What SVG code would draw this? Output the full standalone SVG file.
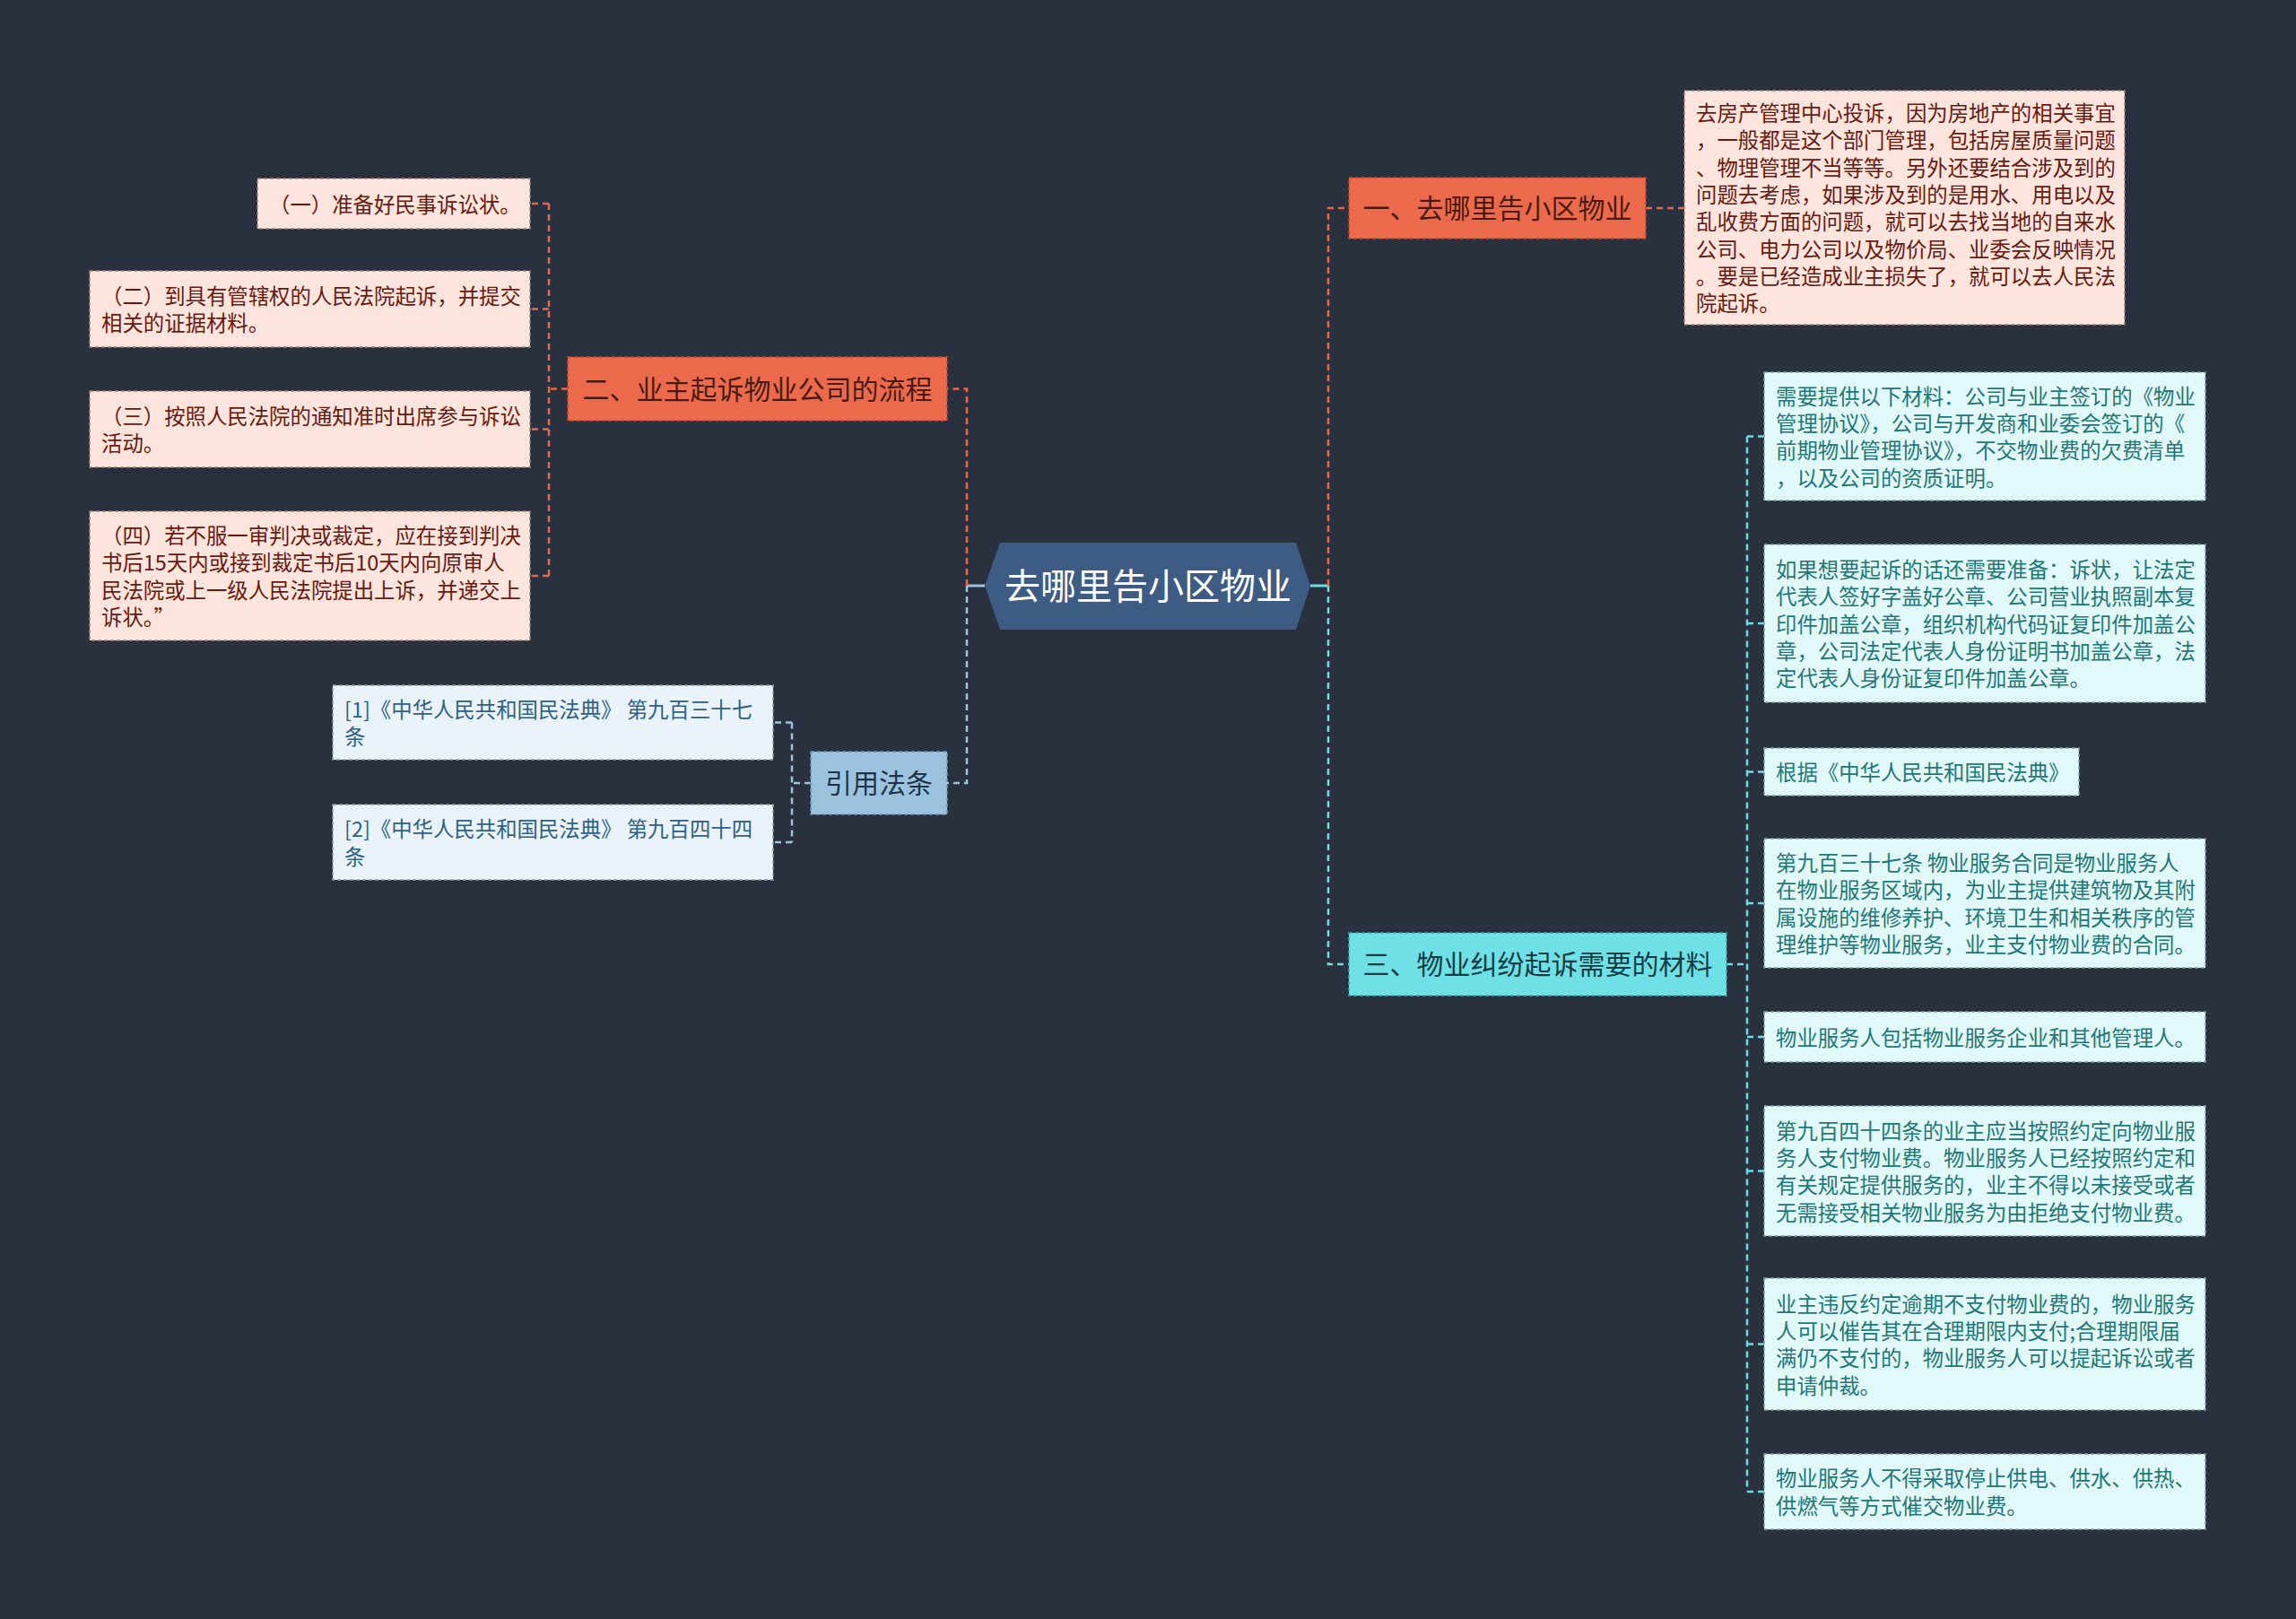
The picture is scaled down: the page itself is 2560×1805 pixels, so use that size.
<svg xmlns="http://www.w3.org/2000/svg" width="2560" height="1805" viewBox="0 0 2560 1805">
<style>
text{font-family:"Noto Sans CJK SC","Microsoft YaHei",sans-serif;}
.c{fill:none;stroke-width:2.5;stroke-dasharray:7 5;}
.co{stroke:#e8694a;}
.cc{stroke:#6ddde3;}
.cb{stroke:#9ec3dc;}
.solidc{fill:none;stroke-width:3;stroke:#6ddde3;}
.solidb{fill:none;stroke-width:3;stroke:#9ec3dc;}
.nb{stroke-width:1.5;stroke-dasharray:4 3;}
.on{fill:#ec6a4c;stroke:#b84a32;}
.cn{fill:#6ee0e6;stroke:#3fa6ab;}
.bn{fill:#9cc3de;stroke:#6e94ae;}
.pb{fill:#fde4dc;stroke:#9a8078;}
.cb2{fill:#e1f9f9;stroke:#7fa3a5;}
.lb{fill:#eaf3f9;stroke:#8a9aa6;}
.t1{font-size:30px;}
.t2{font-size:23.4px;}
.pt{fill:#661a10;}
.ct{fill:#1f7777;}
.lt{fill:#2d6187;}
</style>
<rect width="2560" height="1805" fill="#29313f"/>
<g id="connectors">
<path class="solidb" d="M1098 653 H1078"/>
<path class="solidc" d="M1461 653 H1481"/>
<path class="c co" d="M1078 653 V433.5 H1056"/>
<path class="c cb" d="M1078 653 V873 H1056"/>
<path class="c co" d="M633 433.5 H612"/>
<path class="c co" d="M612 227 V642"/>
<path class="c co" d="M612 227 H591 M612 344.5 H591 M612 478.5 H591 M612 642 H591"/>
<path class="c cb" d="M904 873 H883"/>
<path class="c cb" d="M883 805.5 V939"/>
<path class="c cb" d="M883 805.5 H862 M883 939 H862"/>
<path class="c co" d="M1481 653 V232 H1504"/>
<path class="c cc" d="M1481 653 V1075 H1504"/>
<path class="c co" d="M1835 232 H1878"/>
<path class="c cc" d="M1925 1075 H1948"/>
<path class="c cc" d="M1948 486.5 V1663"/>
<path class="c cc" d="M1948 486.5 H1967 M1948 695 H1967 M1948 860.5 H1967 M1948 1007 H1967 M1948 1156 H1967 M1948 1305.5 H1967 M1948 1498.5 H1967 M1948 1663 H1967"/>
</g>
<g id="center">
<polygon points="1098,653 1115,605 1445,605 1461,653 1445,702 1115,702" fill="#3e5b83"/>
<text x="1280" y="668" font-size="40" fill="#ffffff" text-anchor="middle">去哪里告小区物业</text>
</g>
<g id="n1">
<rect class="nb on" x="1504" y="198" width="331" height="68"/>
<text class="t1" x="1669.5" y="243" fill="#4a1a10" text-anchor="middle">一、去哪里告小区物业</text>
</g>
<g id="n1a">
<rect class="nb pb" x="1878" y="101" width="491" height="261"/>
<text class="t2 pt"><tspan x="1891" y="135">去房产管理中心投诉，因为房地产的相关事宜</tspan><tspan x="1891" y="165.3">，一般都是这个部门管理，包括房屋质量问题</tspan><tspan x="1891" y="195.6">、物理管理不当等等。另外还要结合涉及到的</tspan><tspan x="1891" y="225.9">问题去考虑，如果涉及到的是用水、用电以及</tspan><tspan x="1891" y="256.2">乱收费方面的问题，就可以去找当地的自来水</tspan><tspan x="1891" y="286.5">公司、电力公司以及物价局、业委会反映情况</tspan><tspan x="1891" y="316.8">。要是已经造成业主损失了，就可以去人民法</tspan><tspan x="1891" y="347.1">院起诉。</tspan></text>
</g>
<g id="n2">
<rect class="nb on" x="633" y="398" width="423" height="71"/>
<text class="t1" x="844.5" y="445" fill="#4a1a10" text-anchor="middle">二、业主起诉物业公司的流程</text>
</g>
<g id="n2a">
<rect class="nb pb" x="287" y="199" width="304" height="56"/>
<text class="t2 pt" x="300" y="236.5">（一）准备好民事诉讼状。</text>
</g>
<g id="n2b">
<rect class="nb pb" x="100" y="302" width="491" height="85"/>
<text class="t2 pt"><tspan x="113" y="338.9">（二）到具有管辖权的人民法院起诉，并提交</tspan><tspan x="113" y="369.2">相关的证据材料。</tspan></text>
</g>
<g id="n2c">
<rect class="nb pb" x="100" y="436" width="491" height="85"/>
<text class="t2 pt"><tspan x="113" y="472.9">（三）按照人民法院的通知准时出席参与诉讼</tspan><tspan x="113" y="503.2">活动。</tspan></text>
</g>
<g id="n2d">
<rect class="nb pb" x="100" y="570" width="491" height="144"/>
<text class="t2 pt"><tspan x="113" y="606.1">（四）若不服一审判决或裁定，应在接到判决</tspan><tspan x="113" y="636.4">书后15天内或接到裁定书后10天内向原审人</tspan><tspan x="113" y="666.7">民法院或上一级人民法院提出上诉，并递交上</tspan><tspan x="113" y="697">诉状。”</tspan></text>
</g>
<g id="n4">
<rect class="nb bn" x="904" y="838" width="152" height="70"/>
<text class="t1" x="980" y="884" fill="#1e3346" text-anchor="middle">引用法条</text>
</g>
<g id="n4a">
<rect class="nb lb" x="371" y="764" width="491" height="83"/>
<text class="t2 lt"><tspan x="384" y="799.9">[1]《中华人民共和国民法典》 第九百三十七</tspan><tspan x="384" y="830.2">条</tspan></text>
</g>
<g id="n4b">
<rect class="nb lb" x="371" y="897" width="491" height="84"/>
<text class="t2 lt"><tspan x="384" y="933.4">[2]《中华人民共和国民法典》 第九百四十四</tspan><tspan x="384" y="963.7">条</tspan></text>
</g>
<g id="n3">
<rect class="nb cn" x="1504" y="1040" width="421" height="70"/>
<text class="t1" x="1714.5" y="1086" fill="#143c44" text-anchor="middle">三、物业纠纷起诉需要的材料</text>
</g>
<g id="n3a">
<rect class="nb cb2" x="1967" y="415" width="492" height="143"/>
<text class="t2 ct"><tspan x="1980" y="450.5">需要提供以下材料：公司与业主签订的《物业</tspan><tspan x="1980" y="480.9">管理协议》，公司与开发商和业委会签订的《</tspan><tspan x="1980" y="511.2">前期物业管理协议》，不交物业费的欠费清单</tspan><tspan x="1980" y="541.5">，以及公司的资质证明。</tspan></text>
</g>
<g id="n3b">
<rect class="nb cb2" x="1967" y="607" width="492" height="176"/>
<text class="t2 ct"><tspan x="1980" y="643.9">如果想要起诉的话还需要准备：诉状，让法定</tspan><tspan x="1980" y="674.2">代表人签好字盖好公章、公司营业执照副本复</tspan><tspan x="1980" y="704.5">印件加盖公章，组织机构代码证复印件加盖公</tspan><tspan x="1980" y="734.8">章，公司法定代表人身份证明书加盖公章，法</tspan><tspan x="1980" y="765.1">定代表人身份证复印件加盖公章。</tspan></text>
</g>
<g id="n3c">
<rect class="nb cb2" x="1967" y="834" width="351" height="53"/>
<text class="t2 ct" x="1980" y="870">根据《中华人民共和国民法典》</text>
</g>
<g id="n3d">
<rect class="nb cb2" x="1967" y="935" width="492" height="144"/>
<text class="t2 ct"><tspan x="1980" y="971.1">第九百三十七条 物业服务合同是物业服务人</tspan><tspan x="1980" y="1001.4">在物业服务区域内，为业主提供建筑物及其附</tspan><tspan x="1980" y="1031.7">属设施的维修养护、环境卫生和相关秩序的管</tspan><tspan x="1980" y="1062">理维护等物业服务，业主支付物业费的合同。</tspan></text>
</g>
<g id="n3e">
<rect class="nb cb2" x="1967" y="1128" width="492" height="56"/>
<text class="t2 ct" x="1980" y="1165.5">物业服务人包括物业服务企业和其他管理人。</text>
</g>
<g id="n3f">
<rect class="nb cb2" x="1967" y="1233" width="492" height="145"/>
<text class="t2 ct"><tspan x="1980" y="1269.5">第九百四十四条的业主应当按照约定向物业服</tspan><tspan x="1980" y="1299.9">务人支付物业费。物业服务人已经按照约定和</tspan><tspan x="1980" y="1330.2">有关规定提供服务的，业主不得以未接受或者</tspan><tspan x="1980" y="1360.5">无需接受相关物业服务为由拒绝支付物业费。</tspan></text>
</g>
<g id="n3g">
<rect class="nb cb2" x="1967" y="1425" width="492" height="147"/>
<text class="t2 ct"><tspan x="1980" y="1462.5">业主违反约定逾期不支付物业费的，物业服务</tspan><tspan x="1980" y="1492.9">人可以催告其在合理期限内支付;合理期限届</tspan><tspan x="1980" y="1523.2">满仍不支付的，物业服务人可以提起诉讼或者</tspan><tspan x="1980" y="1553.5">申请仲裁。</tspan></text>
</g>
<g id="n3h">
<rect class="nb cb2" x="1967" y="1621" width="492" height="84"/>
<text class="t2 ct"><tspan x="1980" y="1657.4">物业服务人不得采取停止供电、供水、供热、</tspan><tspan x="1980" y="1687.7">供燃气等方式催交物业费。</tspan></text>
</g>
</svg>
